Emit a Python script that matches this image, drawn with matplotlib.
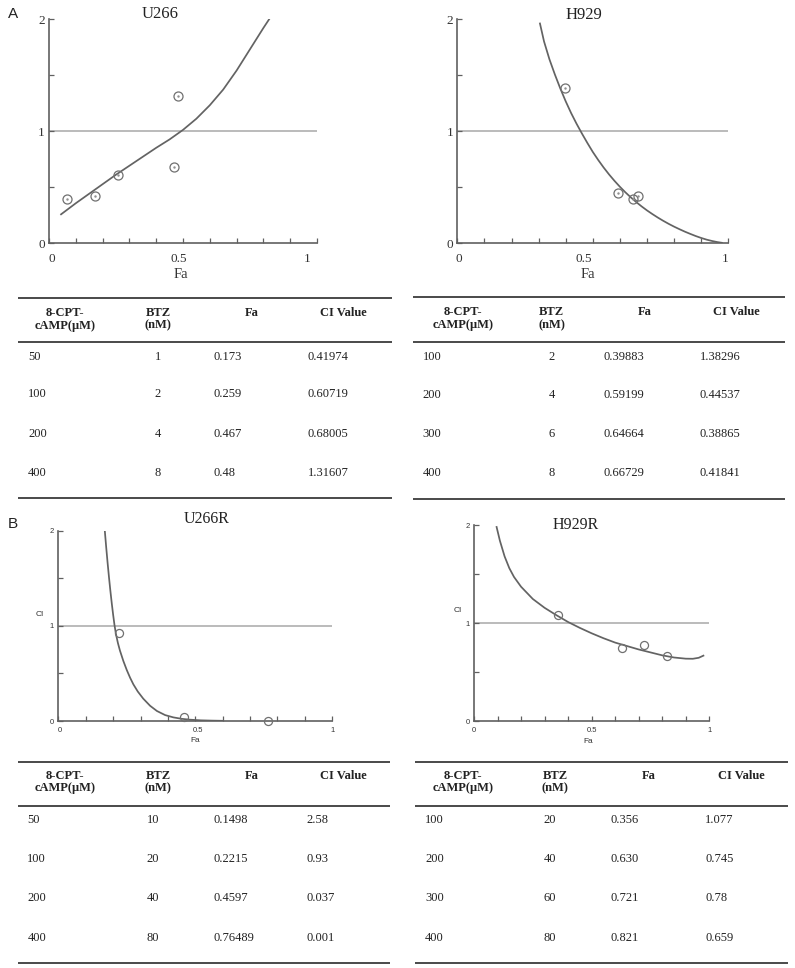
import numpy as np
import matplotlib.pyplot as plt
from matplotlib.transforms import ScaledTranslation

W, H = 795, 968

# ---- A, U266 ----
u266_camp = ['50', '100', '200', '400']
u266_btz = ['1', '2', '4', '8']
u266_fa = ['0.173', '0.259', '0.467', '0.48']
u266_ci = ['0.41974', '0.60719', '0.68005', '1.31607']
u266_extra_fa = [0.066]   # fifth circle on the plot, not in the table
u266_extra_ci = [0.39]
u266_curve_fa = [0.045, 0.10, 0.15, 0.20, 0.25, 0.30, 0.35, 0.40, 0.45, 0.50,
                 0.55, 0.60, 0.65, 0.70, 0.75, 0.80, 0.822]
u266_curve_ci = [0.256, 0.355, 0.44, 0.525, 0.61, 0.69, 0.77, 0.85, 0.925, 1.01,
                 1.11, 1.23, 1.37, 1.54, 1.73, 1.92, 2.0]

# ---- A, H929 ----
h929_camp = ['100', '200', '300', '400']
h929_btz = ['2', '4', '6', '8']
h929_fa = ['0.39883', '0.59199', '0.64664', '0.66729']
h929_ci = ['1.38296', '0.44537', '0.38865', '0.41841']
h929_curve_fa = [0.305, 0.32, 0.34, 0.36, 0.38, 0.40, 0.42, 0.44, 0.46, 0.48,
                 0.50, 0.52, 0.54, 0.56, 0.58, 0.60, 0.62, 0.64, 0.66, 0.68,
                 0.70, 0.72, 0.74, 0.76, 0.78, 0.80, 0.82, 0.84, 0.86, 0.88,
                 0.90, 0.92, 0.94, 0.96, 0.976]
h929_curve_ci = [1.96, 1.80, 1.64, 1.505, 1.38, 1.265, 1.16, 1.065, 0.977, 0.893,
                 0.813, 0.741, 0.674, 0.612, 0.555, 0.502, 0.453, 0.408, 0.366, 0.327,
                 0.291, 0.258, 0.227, 0.198, 0.171, 0.146, 0.123, 0.101, 0.081, 0.062,
                 0.045, 0.030, 0.018, 0.008, 0.002]

# ---- B, U266R ----
u266r_camp = ['50', '100', '200', '400']
u266r_btz = ['10', '20', '40', '80']
u266r_fa = ['0.1498', '0.2215', '0.4597', '0.76489']
u266r_ci = ['2.58', '0.93', '0.037', '0.001']
u266r_curve_fa = [0.170, 0.175, 0.180, 0.185, 0.190, 0.195, 0.200, 0.205, 0.210,
                  0.2175, 0.225, 0.2375, 0.250, 0.262, 0.274, 0.29, 0.31, 0.335,
                  0.36, 0.39, 0.42, 0.45, 0.48, 0.52, 0.56, 0.60]
u266r_curve_ci = [1.99, 1.82, 1.66, 1.51, 1.37, 1.24, 1.12, 1.01, 0.92,
                  0.82, 0.74, 0.63, 0.535, 0.455, 0.385, 0.31, 0.235, 0.16,
                  0.105, 0.062, 0.038, 0.023, 0.014, 0.007, 0.004, 0.002]

# ---- B, H929R ----
h929r_camp = ['100', '200', '300', '400']
h929r_btz = ['20', '40', '60', '80']
h929r_fa = ['0.356', '0.630', '0.721', '0.821']
h929r_ci = ['1.077', '0.745', '0.78', '0.659']
h929r_curve_fa = [0.096, 0.11, 0.13, 0.15, 0.17, 0.20, 0.25, 0.30, 0.35, 0.40,
                  0.45, 0.50, 0.55, 0.60, 0.65, 0.70, 0.75, 0.80, 0.85, 0.90,
                  0.93, 0.955, 0.975]
h929r_curve_ci = [1.98, 1.84, 1.68, 1.56, 1.47, 1.37, 1.245, 1.155, 1.08, 1.01,
                  0.95, 0.895, 0.845, 0.80, 0.765, 0.73, 0.70, 0.67, 0.648, 0.636,
                  0.635, 0.645, 0.667]

headers = [['8-CPT-', 'cAMP(\u03bcM)'], ['BTZ', '(nM)'], ['Fa'], ['CI Value']]

SERIF = 'Liberation Serif'
SANS = 'Liberation Sans'

fig = plt.figure(figsize=(W / 100, H / 100), dpi=100)

# overlay in pixel coordinates for labels and tables
ov = fig.add_axes([0, 0, 1, 1])
ov.set_xlim(0, W)
ov.set_ylim(H, 0)
ov.axis('off')
ov.patch.set_visible(False)


def rect(x0, x1, y0, y2):
    # axes rectangle from pixel positions of x=0, x=1, y=0, y=2
    return [x0 / W, 1 - y0 / H, (x1 - x0) / W, (y0 - y2) / H]


def ci_plot(r, fa, ci, curve_fa, curve_ci, font, fs, ms, dot, xpad, xoff, extra=None):
    ax = fig.add_axes(r)
    ax.set_xlim(0, 1)
    ax.set_ylim(0, 2)
    ax.patch.set_alpha(0)
    ax.axhline(1, color='#a8a8a8', lw=1.1, zorder=1)
    ax.plot(curve_fa, curve_ci, color='#636363', lw=1.25, zorder=2)
    fa = np.array([float(v) for v in fa])
    ci = np.array([float(v) for v in ci])
    if extra is not None:
        fa = np.concatenate([extra[0], fa])
        ci = np.concatenate([extra[1], ci])
    keep = ci <= 2
    ax.plot(fa[keep], ci[keep], 'o', mfc='none', mec='#707070', mew=0.9, ms=ms,
            clip_on=False, zorder=3)
    if dot:
        ax.plot(fa[keep], ci[keep], '.', color='#909090', ms=1.5, clip_on=False, zorder=3)
    for s in ['top', 'right']:
        ax.spines[s].set_visible(False)
    for s in ['left', 'bottom']:
        ax.spines[s].set_color('#606060')
        ax.spines[s].set_linewidth(1.2)
    ax.set_xticks(np.linspace(0, 1, 11))
    ax.set_xticklabels(['0', '', '', '', '', '0.5', '', '', '', '', '1'])
    ax.set_yticks([0, 0.5, 1, 1.5, 2])
    ax.set_yticklabels(['0', '', '1', '', '2'])
    ax.tick_params(direction='in', length=3.5, width=0.9, color='#606060',
                   labelcolor='#333333', labelsize=fs)
    ax.tick_params(axis='x', pad=xpad)
    ax.tick_params(axis='y', pad=3)
    for lbl in ax.get_xticklabels() + ax.get_yticklabels():
        lbl.set_family(font)
    labels = ax.get_xticklabels()
    for i, dx in xoff.items():
        labels[i].set_transform(labels[i].get_transform() +
                                ScaledTranslation(dx / 100, 0, fig.dpi_scale_trans))
    return ax


ci_plot(rect(49, 317, 243, 19), u266_fa, u266_ci, u266_curve_fa, u266_curve_ci,
        SERIF, 9.5, 6.5, True, 7, {0: 3, 5: -4, 10: -10},
        extra=(u266_extra_fa, u266_extra_ci))
ci_plot(rect(457.3, 728.3, 243, 19), h929_fa, h929_ci, h929_curve_fa, h929_curve_ci,
        SERIF, 9.5, 6.5, True, 7, {0: 2, 5: -9, 10: -3})
ci_plot(rect(58.3, 332.3, 721, 530.7), u266r_fa, u266r_ci, u266r_curve_fa, u266r_curve_ci,
        SANS, 5.5, 5.8, False, 4, {0: 2, 5: 3})
ci_plot(rect(474, 709.3, 721, 525), h929r_fa, h929r_ci, h929r_curve_fa, h929r_curve_ci,
        SANS, 5.5, 5.8, False, 4, {})

# panel letters, titles and axis names
ov.text(13, 14, 'A', family=SANS, fontsize=11, ha='center', va='center', color='#222')
ov.text(13, 524, 'B', family=SANS, fontsize=11, ha='center', va='center', color='#222')
ov.text(160, 14, 'U266', family=SERIF, fontsize=12, ha='center', va='center', color='#222')
ov.text(584.3, 15, 'H929', family=SERIF, fontsize=12, ha='center', va='center', color='#222')
ov.text(206.7, 519.3, 'U266R', family=SERIF, fontsize=11.5, ha='center', va='center', color='#222')
ov.text(575.7, 525, 'H929R', family=SERIF, fontsize=11.5, ha='center', va='center', color='#222')
ov.text(181, 275, 'Fa', family=SERIF, fontsize=10.5, ha='center', va='center', color='#333')
ov.text(587.7, 275, 'Fa', family=SERIF, fontsize=10.5, ha='center', va='center', color='#333')
ov.text(195, 740.7, 'Fa', family=SANS, fontsize=6, ha='center', va='center', color='#333')
ov.text(588, 741.7, 'Fa', family=SANS, fontsize=6, ha='center', va='center', color='#333')
ov.text(40, 614, 'CI', family=SANS, fontsize=6, ha='center', va='center', color='#333')
ov.text(457.3, 610.7, 'CI', family=SANS, fontsize=6, ha='center', va='center', color='#333')


def table(x0, x1, rules, head_y, rows_y, head_x, val_x, val_ha, cols):
    for y in rules:
        ov.plot([x0, x1], [y, y], color='#4a4a4a', lw=1.4, solid_capstyle='butt')
    for hx, lines in zip(head_x, headers):
        for hy, t in zip(head_y, lines):
            ov.text(hx, hy, t, family=SERIF, fontsize=9, fontweight='bold',
                    ha='center', va='center', color='#222')
    for vx, ha, col in zip(val_x, val_ha, cols):
        for y, v in zip(rows_y, col):
            ov.text(vx, y, v, family=SERIF, fontsize=9, ha=ha, va='center', color='#222')


table(18, 392, [298.3, 341.7, 498.3], [313.3, 325.5], [356.7, 394.3, 434, 472.7],
      [65, 158, 252, 343], [28, 158, 214, 308], ['left', 'center', 'left', 'left'],
      [u266_camp, u266_btz, u266_fa, u266_ci])
table(412.7, 785, [297.3, 342.3, 499], [312, 325], [356.7, 395, 434, 472.7],
      [463, 551.7, 645, 736.7], [422.7, 551.7, 604, 700], ['left', 'center', 'left', 'left'],
      [h929_camp, h929_btz, h929_fa, h929_ci])
table(18, 390, [762.3, 805.7, 963.3], [775.7, 788.3], [820, 859, 898.3, 937.7],
      [65, 158, 251.7, 343], [27.3, 146.7, 213, 306.7], ['left', 'left', 'left', 'left'],
      [u266r_camp, u266r_btz, u266r_fa, u266r_ci])
table(415, 788, [762.3, 805.7, 963.3], [775.7, 788.3], [820, 859, 898.3, 937.7],
      [463.3, 555, 648.3, 741.7], [425, 543.3, 610.7, 705], ['left', 'left', 'left', 'left'],
      [h929r_camp, h929r_btz, h929r_fa, h929r_ci])

fig.savefig('out.png', dpi=100)
